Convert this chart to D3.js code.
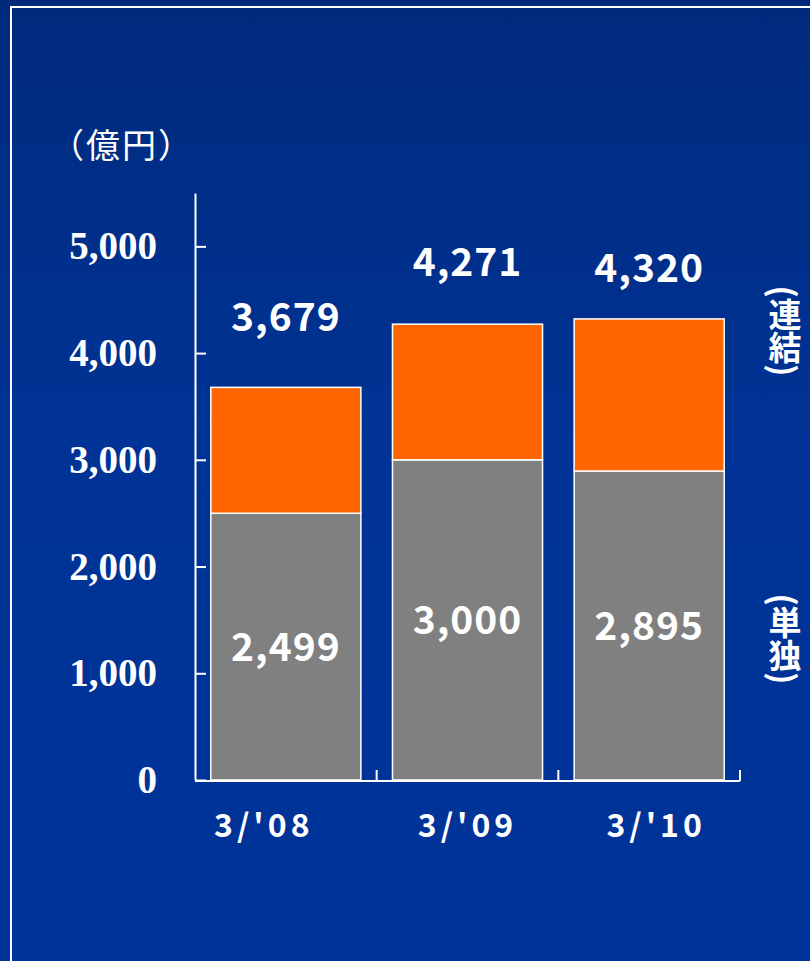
<!DOCTYPE html>
<html>
<head>
<meta charset="utf-8">
<script src="https://cdn.jsdelivr.net/npm/d3@7"></script>
<style>
  html, body { margin: 0; padding: 0; background: #003399; }
  svg { display: block; }
</style>
</head>
<body>
<div id="app"></div>
<script>
// chart data
const periods = ["3/'08", "3/'09", "3/'10"]
const standalone = [2499, 3000, 2895]       // 単独
const consolidated = [3679, 4271, 4320]     // 連結
const yTicks = [0, 1000, 2000, 3000, 4000, 5000]
const unitLabel = '（億円）'
const seriesLabels = ['(連結)', '(単独)']

;(() => {
    const width = 810
    const height = 961

    // small hand nudges for labels as placed in the original slide
    const totalLabelDy = [-70, -62, -51]
    const xLabelNudge = [-22, 0, 7]
    const seriesLabelY = [331, 639]

    const svg = d3.create('svg')
        .attr('viewBox', [0, 0, width, height])
        .attr('width', width)
        .attr('height', height)

    const grad = svg.append('defs')
        .append('linearGradient')
        .attr('id', 'bg')
        .attr('x1', 0).attr('y1', 0)
        .attr('x2', 0).attr('y2', 1)
    grad.append('stop').attr('offset', '0%').attr('stop-color', '#002a7c')
    grad.append('stop').attr('offset', '45%').attr('stop-color', '#003395')
    grad.append('stop').attr('offset', '100%').attr('stop-color', '#003399')

    svg.append('rect')
        .attr('width', width)
        .attr('height', height)
        .attr('fill', 'url(#bg)')

    // slide frame
    svg.append('path')
        .attr('d', `M11,${height} V7 H${width}`)
        .attr('fill', 'none')
        .attr('stroke', '#fff')
        .attr('stroke-width', 2)

    const x = d3.scaleBand()
        .domain(periods)
        .range([195, 740])
        .paddingInner(0.174)
        .paddingOuter(0.087)

    const y = d3.scaleLinear()
        .domain([0, 5500])
        .range([780, 193])

    const bars = periods.map((p, i) => ({
        period: p,
        base: standalone[i],
        total: consolidated[i],
        i
    }))

    // stacked bars
    svg.append('g')
        .selectAll('rect')
        .data(bars)
        .join('rect')
        .attr('x', d => x(d.period))
        .attr('y', d => y(d.base))
        .attr('width', x.bandwidth())
        .attr('height', d => y(0) - y(d.base))
        .attr('fill', '#808080')
        .attr('stroke', '#fff')
        .attr('stroke-width', 1.5)

    svg.append('g')
        .selectAll('rect')
        .data(bars)
        .join('rect')
        .attr('x', d => x(d.period))
        .attr('y', d => y(d.total))
        .attr('width', x.bandwidth())
        .attr('height', d => y(d.base) - y(d.total))
        .attr('fill', '#ff6600')
        .attr('stroke', '#fff')
        .attr('stroke-width', 1.5)

    // y axis
    svg.append('g')
        .attr('transform', 'translate(195, 0)')
        .call(d3.axisLeft(y)
            .tickValues(yTicks)
            .tickFormat(d3.format(','))
            .tickSizeInner(-11)
            .tickSizeOuter(0)
            .tickPadding(38))
        .call(g => g.select('.domain').attr('stroke', '#fff').attr('stroke-width', 2))
        .call(g => g.selectAll('.tick line').attr('stroke', '#fff').attr('stroke-width', 2))
        .call(g => g.selectAll('.tick text')
            .attr('fill', '#fff')
            .attr('font-family', '"Liberation Serif", "Times New Roman", serif')
            .attr('font-weight', 'bold')
            .attr('font-size', 39))

    // x axis
    const gap = x.step() * x.paddingInner()
    const bounds = periods.map(p => x(p) + x.bandwidth() + gap / 2)

    svg.append('g')
        .attr('transform', `translate(0, ${y(0) + 1})`)
        .call(d3.axisBottom(x).tickSize(0).tickPadding(0).tickFormat(() => ''))
        .call(g => g.select('.domain')
            .attr('d', `M195,0H${bounds[bounds.length - 1]}`)
            .attr('stroke', '#fff')
            .attr('stroke-width', 2))

    svg.append('g')
        .selectAll('line')
        .data(bounds)
        .join('line')
        .attr('x1', d => d)
        .attr('x2', d => d)
        .attr('y1', y(0) + 1)
        .attr('y2', y(0) - 10)
        .attr('stroke', '#fff')
        .attr('stroke-width', 2)

    const labelFont = '"Noto Sans CJK JP", "Noto Sans", sans-serif'

    svg.append('g')
        .selectAll('text')
        .data(bars)
        .join('text')
        .attr('x', d => x(d.period) + x.bandwidth() / 2 + xLabelNudge[d.i])
        .attr('y', y(0) + 57)
        .attr('text-anchor', 'middle')
        .attr('fill', '#fff')
        .attr('font-family', labelFont)
        .attr('font-weight', 'bold')
        .attr('font-size', 32)
        .attr('letter-spacing', 4)
        .text(d => d.period)

    // value labels
    svg.append('g')
        .selectAll('text')
        .data(bars)
        .join('text')
        .attr('x', d => x(d.period) + x.bandwidth() / 2)
        .attr('y', d => (y(0) + y(d.base)) / 2)
        .attr('dy', '0.36em')
        .attr('text-anchor', 'middle')
        .attr('fill', '#fff')
        .attr('font-family', labelFont)
        .attr('font-weight', 'bold')
        .attr('font-size', 39)
        .attr('letter-spacing', 1)
        .text(d => d3.format(',')(d.base))

    svg.append('g')
        .selectAll('text')
        .data(bars)
        .join('text')
        .attr('x', d => x(d.period) + x.bandwidth() / 2)
        .attr('y', d => y(d.total) + totalLabelDy[d.i])
        .attr('dy', '0.36em')
        .attr('text-anchor', 'middle')
        .attr('fill', '#fff')
        .attr('font-family', labelFont)
        .attr('font-weight', 'bold')
        .attr('font-size', 39)
        .attr('letter-spacing', 1)
        .text(d => d3.format(',')(d.total))

    // unit label
    svg.append('text')
        .attr('x', 50)
        .attr('y', 158)
        .attr('fill', '#fff')
        .attr('font-family', labelFont)
        .attr('font-size', 34)
        .attr('letter-spacing', 2)
        .text(unitLabel)

    // series labels, vertical on the right
    svg.append('g')
        .selectAll('text')
        .data(seriesLabels)
        .join('text')
        .attr('x', 785)
        .attr('y', (d, i) => seriesLabelY[i])
        .attr('text-anchor', 'middle')
        .style('writing-mode', 'vertical-rl')
        .attr('fill', '#fff')
        .attr('font-family', labelFont)
        .attr('font-weight', 'bold')
        .attr('font-size', 33)
        .text(d => d)

    d3.select('#app').append(() => svg.node())
})()
</script>
</body>
</html>
